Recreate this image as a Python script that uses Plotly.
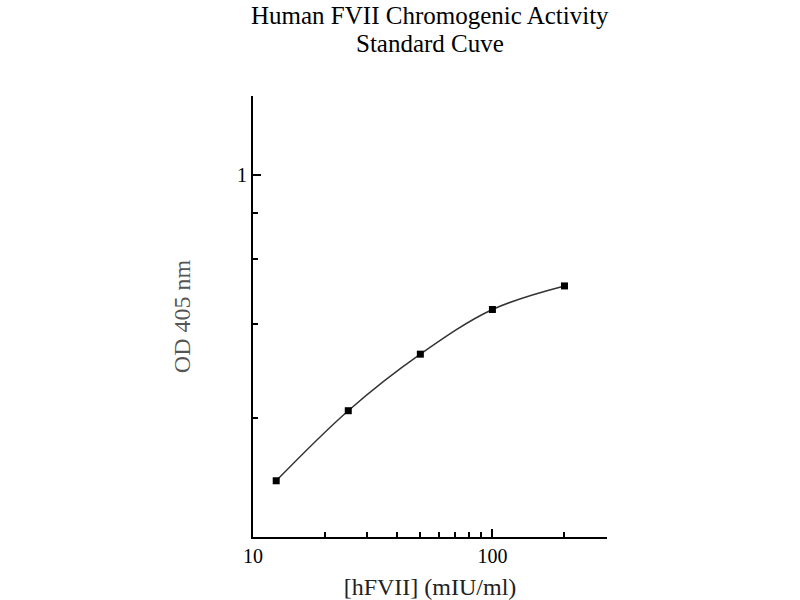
import plotly.graph_objects as go

# Data
conc = [12.5, 25, 50, 100, 200]          # [hFVII] (mIU/ml)
od = [0.157, 0.240, 0.338, 0.443, 0.511] # OD 405 nm

x_major = [10, 100]
x_minor = [20, 30, 40, 50, 60, 70, 80, 90, 200, 300]
y_major = [1]
y_minor = [0.796, 0.600, 0.407, 0.229]

title_lines = ["Human FVII Chromogenic Activity", "Standard Cuve"]

FONT = "Liberation Serif"

fig = go.Figure()
fig.add_trace(go.Scatter(
    x=conc, y=od, mode="lines+markers",
    line=dict(color="#333333", width=1.5, shape="spline", smoothing=1.0),
    marker=dict(symbol="square", size=7, color="black"),
    showlegend=False,
))

fig.update_layout(
    width=800, height=600,
    paper_bgcolor="white", plot_bgcolor="white",
    margin=dict(l=253, r=193, t=96, b=63, autoexpand=False),
    font=dict(family=FONT, color="black"),
)

for i, line in enumerate(title_lines):
    fig.add_annotation(
        text=line, xref="paper", x=0.5, xanchor="center",
        yref="paper", y=1 + (80 - 28 * i) / 441, yanchor="middle",
        showarrow=False, font=dict(family=FONT, size=25, color="black"),
    )

fig.update_xaxes(
    type="log", range=[1, 2.4786], automargin=False,
    showline=True, linecolor="black", linewidth=2,
    showgrid=False, zeroline=False,
    tickmode="array", tickvals=x_major, ticktext=[str(v) for v in x_major],
    ticks="inside", ticklen=8, tickwidth=2, tickcolor="black",
    tickfont=dict(family=FONT, size=20, color="black"),
    minor=dict(tickmode="array", tickvals=x_minor, ticks="inside",
               ticklen=5, tickwidth=2, tickcolor="black", showgrid=False),
    title=dict(text="[hFVII] (mIU/ml)", font=dict(family=FONT, size=24, color="#222222"),
               standoff=12),
)

fig.update_yaxes(
    type="log", range=[-0.952, 0.208], automargin=False,
    showline=True, linecolor="black", linewidth=2,
    showgrid=False, zeroline=False,
    tickmode="array", tickvals=y_major, ticktext=[str(v) for v in y_major],
    ticks="inside", ticklen=8, tickwidth=2, tickcolor="black",
    tickfont=dict(family=FONT, size=20, color="black"),
    minor=dict(tickmode="array", tickvals=y_minor, ticks="inside",
               ticklen=5, tickwidth=2, tickcolor="black", showgrid=False),
    title=dict(text="OD 405 nm", font=dict(family=FONT, size=24, color="#555555"),
               standoff=40),
)

fig.write_html("out.html", config={"displayModeBar": False},
               post_script="document.body.style.margin='0';")
